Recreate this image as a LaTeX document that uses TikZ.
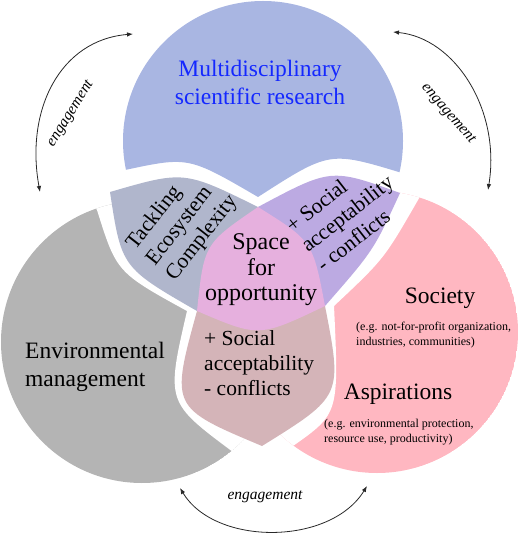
\documentclass[tikz,border=0pt]{standalone}
\usepackage{fontspec}
\setmainfont{Liberation Serif}
\usetikzlibrary{arrows.meta}
\definecolor{cB}{RGB}{169,182,226}
\definecolor{cG}{RGB}{180,180,180}
\definecolor{cP}{RGB}{255,183,193}
\definecolor{cBG}{RGB}{176,182,204}
\definecolor{cBP}{RGB}{188,170,226}
\definecolor{cGP}{RGB}{212,180,184}
\definecolor{cC}{RGB}{230,176,222}
\definecolor{cT}{RGB}{20,40,255}
\definecolor{cA}{RGB}{40,40,40}
\tikzset{
  big/.style={inner sep=0pt, font=\fontsize{23.5}{28}\selectfont},
  lenstext/.style={inner sep=0pt, align=left, font=\fontsize{21.5}{25}\selectfont},
  small/.style={inner sep=0pt, align=left, font=\fontsize{12}{14.5}\selectfont},
  eng/.style={inner sep=0pt, font=\fontsize{15.5}{18}\selectfont\itshape},
  engarrow/.style={draw=cA, line width=0.8pt, >={Latex[length=6pt,width=4.5pt]}, <->}
}
\begin{document}
\begin{tikzpicture}[x=1pt,y=-1pt]
\useasboundingbox (0,0) rectangle (520,534);
% blue only
\begin{scope}
  \clip (-5,170) -- (125,170) .. controls (188.5,156.5) .. (258,197) .. controls (329.5,151) .. (402,173) -- (525,173) -- (525,-5) -- (-5,-5) -- cycle;
  \fill[cB] (263,141) circle[radius=140];
\end{scope}
% gray only
\begin{scope}
  \clip (142,342) circle[radius=141];
  \fill[cG] (142,342) circle[radius=141];
  \fill[white] (60,150) -- (90,200) -- (97,210) .. controls (116.6,272.3) .. (187,311) .. controls (166,402) .. (233,452) -- (260,472) -- (260,545) -- (330,545) -- (330,150) -- cycle;
\end{scope}
% pink only
\begin{scope}
  \clip (377,332) circle[radius=141];
  \fill[cP] (377,332) circle[radius=141];
  \fill[white] (200,150) -- (439,150) -- (439,163) -- (418,200) .. controls (384,259) .. (334,306) .. controls (339,413.5) .. (293,446) -- (270,462) -- (270,545) -- (200,545) -- cycle;
\end{scope}
% lenses
\fill[cGP] (197,311) .. controls (170.5,407.5) .. (262,446) .. controls (342.5,396) .. (325,306) -- (260,312) -- cycle;
\fill[cBG] (110,192) .. controls (184,170.5) .. (258,207) -- (250,300) -- (197,311) .. controls (121.5,267.5) .. (110,192) -- cycle;
\fill[cBP] (258,207) .. controls (331,168) .. (400,193) .. controls (373.5,250.5) .. (325,306) -- (270,300) -- cycle;
% centre
\fill[cC] (258,207) .. controls (204,243.9) .. (197,311) .. controls (259,337.5) .. (325,306) .. controls (312.7,241.2) .. (258,207) -- cycle;

% texts
\node[big, align=center, text=cT] (title) at (260,82) {Multidisciplinary\\scientific research};
\node[big, align=left, anchor=west] (env) at (25,367) {Environmental\\management};
\node[big] (soc) at (440,298) {Society};
\node[small, anchor=west] (soceg) at (356,335) {(e.g. not-for-profit organization,\\industries, communities)};
\node[big] (asp) at (398,394) {Aspirations};
\node[small, anchor=west] (aspeg) at (324,432) {(e.g. environmental protection,\\resource use, productivity)};
\node[big, align=center, font=\fontsize{24}{25.5}\selectfont] (space) at (261,270) {Space\\for\\opportunity};
\node[lenstext, anchor=west] (gptext) at (204,363) {+ Social\\acceptability\\- conflicts};
\node[lenstext, anchor=west, rotate=38] (bptext) at (303.5,247.3) {+ Social\\acceptability\\- conflicts};
\node[lenstext, anchor=west, rotate=52] (bgtext) at (151,263) {Tackling\\Ecosystem\\Complexity};

% engagement arrows
\coordinate (l1) at (133,34);
\coordinate (l2) at (40,192);
\coordinate (r1) at (393,32);
\coordinate (r2) at (488,190);
\coordinate (b1) at (180,488);
\coordinate (b2) at (367,486);
\draw[engarrow] (l1) .. controls (60,40) and (25,110) .. (l2);
\draw[engarrow] (r1) .. controls (455,38) and (501,110) .. (r2);
\draw[engarrow] (b1) .. controls (215,546) and (330,546) .. (b2);
\node[eng, rotate=58] (engl) at (71,114) {engagement};
\node[eng, rotate=-49] (engr) at (448,114) {engagement};
\node[eng] (engb) at (265,497) {engagement};
\end{tikzpicture}
\end{document}
